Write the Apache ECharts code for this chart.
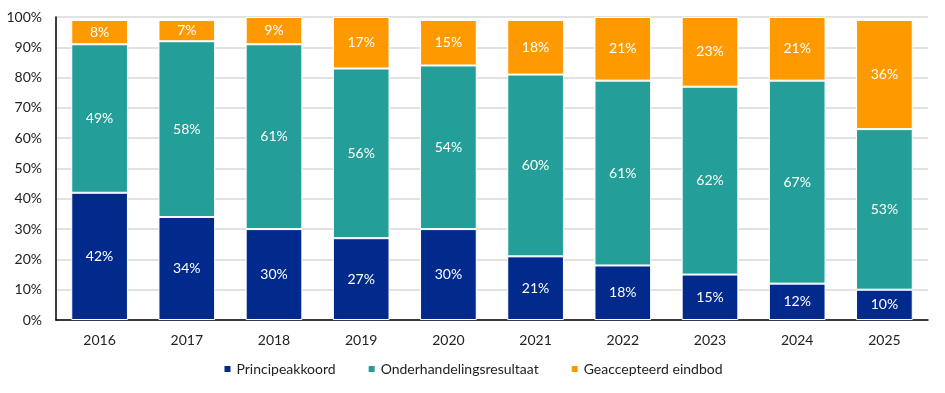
<!DOCTYPE html>
<html><head><meta charset="utf-8">
<script src="https://cdn.jsdelivr.net/npm/echarts@6/dist/echarts.min.js"></script>
<style>html,body{margin:0;padding:0;background:#fff}#c{width:945px;height:393px}</style>
</head><body><div id="c"></div>
<script>
const years = ['2016','2017','2018','2019','2020','2021','2022','2023','2024','2025'];
const principeakkoord = [42,34,30,27,30,21,18,15,12,10];
const onderhandelingsresultaat = [49,58,61,56,54,60,61,62,67,53];
const geaccepteerdEindbod = [8,7,9,17,15,18,21,23,21,36];
const seriesNames = ['Principeakkoord','Onderhandelingsresultaat','Geaccepteerd eindbod'];
const colors = ['#012A8C','#239E98','#FF9900'];
const FONT = 'Lato';
const chart = echarts.init(document.getElementById('c'));
const mk = (name, data, color) => ({
  name, type: 'bar', stack: 'a', data, barWidth: '65%',
  itemStyle: { color, borderColor: '#ffffff', borderWidth: 1 },
  label: { show: true, position: 'inside', formatter: p => p.value + '%', color: '#fff', fontFamily: FONT, fontSize: 14 }
});
chart.setOption({
  animation: false,
  textStyle: { fontFamily: FONT },
  grid: { left: 56, right: 17, top: 17, bottom: 73 },
  legend: {
    bottom: 12, itemWidth: 8, itemHeight: 8, itemGap: 31, icon: 'rect',
    textStyle: { fontFamily: FONT, fontSize: 14, color: '#222' },
    data: seriesNames
  },
  xAxis: {
    type: 'category', data: years,
    axisLine: { lineStyle: { color: '#000', width: 1.5 } },
    axisTick: { show: false },
    axisLabel: { color: '#222', fontFamily: FONT, fontSize: 14, margin: 13 }
  },
  yAxis: {
    type: 'value', min: 0, max: 100, interval: 10,
    axisLine: { show: true, lineStyle: { color: '#000', width: 1.5 } },
    axisLabel: { formatter: '{value}%', color: '#222', fontFamily: FONT, fontSize: 14, margin: 14 },
    splitLine: { lineStyle: { color: '#d9d9d9', width: 1.5 } }
  },
  series: [
    mk(seriesNames[0], principeakkoord, colors[0]),
    mk(seriesNames[1], onderhandelingsresultaat, colors[1]),
    mk(seriesNames[2], geaccepteerdEindbod, colors[2])
  ]
});
</script></body></html>
